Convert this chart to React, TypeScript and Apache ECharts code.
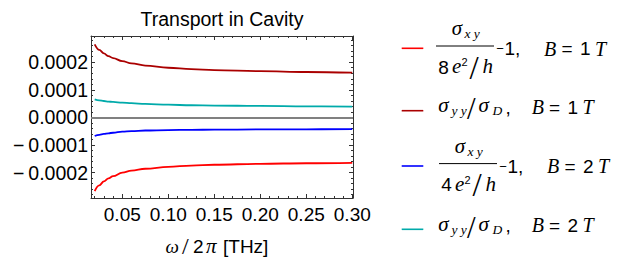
import React, { useEffect, useRef } from 'react';
import * as echarts from 'echarts';

// ---- data ----
const freqTHz = [0.02, 0.025, 0.03, 0.035, 0.04, 0.05, 0.06, 0.075, 0.10, 0.125, 0.15, 0.20, 0.25, 0.30];
// sigma_xy/(8e^2/h) - 1, B = 1T
const sxy1T = [-2.67e-4, -2.46e-4, -2.32e-4, -2.21e-4, -2.13e-4, -2.0e-4, -1.93e-4, -1.86e-4, -1.79e-4, -1.745e-4, -1.715e-4, -1.68e-4, -1.66e-4, -1.645e-4];
// sigma_yy/sigma_D, B = 1T
const syy1T = [2.65e-4, 2.45e-4, 2.32e-4, 2.22e-4, 2.15e-4, 2.04e-4, 1.96e-4, 1.88e-4, 1.80e-4, 1.75e-4, 1.715e-4, 1.675e-4, 1.645e-4, 1.62e-4];
// sigma_xy/(4e^2/h) - 1, B = 2T
const sxy2T = [-0.675e-4, -0.63e-4, -0.60e-4, -0.575e-4, -0.555e-4, -0.515e-4, -0.495e-4, -0.475e-4, -0.46e-4, -0.45e-4, -0.445e-4, -0.435e-4, -0.43e-4, -0.425e-4];
// sigma_yy/sigma_D, B = 2T
const syy2T = [0.655e-4, 0.62e-4, 0.595e-4, 0.575e-4, 0.56e-4, 0.535e-4, 0.515e-4, 0.49e-4, 0.46e-4, 0.44e-4, 0.43e-4, 0.415e-4, 0.40e-4, 0.39e-4];

const xMajorTicks = [0.05, 0.10, 0.15, 0.20, 0.25, 0.30];
const xMinorTicks = [0.02, 0.03, 0.04, 0.06, 0.07, 0.08, 0.09, 0.11, 0.12, 0.13, 0.14, 0.16, 0.17, 0.18, 0.19, 0.21, 0.22, 0.23, 0.24, 0.26, 0.27, 0.28, 0.29];
const yMajorTicks = [-0.0002, -0.0001, 0, 0.0001, 0.0002];
const yMinorTicks = [-0.00028, -0.00026, -0.00024, -0.00022, -0.00018, -0.00016, -0.00014, -0.00012, -0.00008, -0.00006, -0.00004, -0.00002,
  0.00002, 0.00004, 0.00006, 0.00008, 0.00012, 0.00014, 0.00016, 0.00018, 0.00022, 0.00024, 0.00026, 0.00028];

const X_MIN = 0.016;
const X_MAX = 0.3008;
const Y_MIN = -2.92e-4;
const Y_MAX = 2.95e-4;

const RED = '#ff0000';
const DARKRED = '#aa0000';
const BLUE = '#0000ff';
const TEAL = '#00aaaa';
const FRAME = '#333333';

const SANS = '"Liberation Sans", Arial, sans-serif';
const SERIF = '"Liberation Serif", "Times New Roman", serif';

type Kind = 'si' | 'r' | 's';
type Piece = [string, number, number, Kind, number];

function piece([text, x, base, kind, size]: Piece): any {
  const family = kind === 's' ? SANS : SERIF;
  const italic = kind === 'si' ? 'italic' : 'normal';
  return {
    type: 'text',
    x,
    y: base - 0.34 * size,
    silent: true,
    style: {
      text,
      fill: '#000',
      fontFamily: family,
      fontStyle: italic,
      fontSize: size,
      align: 'left',
      verticalAlign: 'middle',
    },
  };
}

function fracEntry(dx: number, dy: number, k: string, b: string): any[] {
  const items: Piece[] = [
    ['σ', 451.7 + dx, 35.5 + dy, 'si', 21],
    ['x y', 464.5 + dx, 38.5 + dy, 'si', 13.5],
    [k, 438.3 + dx, 73.5 + dy, 's', 19],
    ['e', 452 + dx, 73.5 + dy, 'si', 21],
    ['2', 461.5 + dx, 66 + dy, 's', 11],
    ['/', 469.5 + dx, 79 + dy, 'r', 33],
    ['h', 482.5 + dx, 73.5 + dy, 'si', 21],
    ['−', 496.3 + dx, 53 + dy, 's', 13],
    ['1', 504.5 + dx, 55.3 + dy, 's', 19],
    [',', 515 + dx, 55.3 + dy, 's', 19],
    ['B', 544 + dx, 55.3 + dy, 'si', 20],
    ['=', 561.5 + dx, 55.3 + dy, 's', 19],
    [b, 580 + dx, 55.3 + dy, 's', 19],
    ['T', 595 + dx, 55.3 + dy, 'si', 20],
  ];
  const out = items.map(piece);
  out.push({
    type: 'line',
    silent: true,
    shape: { x1: 436 + dx, y1: 46 + dy, x2: 494 + dx, y2: 46 + dy },
    style: { stroke: '#000', lineWidth: 1 },
  });
  return out;
}

function ratioEntry(dy: number, b: string): any[] {
  const items: Piece[] = [
    ['σ', 438.3, 112.5 + dy, 'si', 21],
    ['y y', 451.5, 115.5 + dy, 'si', 13.5],
    ['/', 467, 119.5 + dy, 'r', 31],
    ['σ', 478.5, 112.5 + dy, 'si', 21],
    ['D', 492.5, 115.5 + dy, 'si', 13.5],
    [',', 505.5, 113.7 + dy, 's', 19],
    ['B', 531.7, 113.7 + dy, 'si', 20],
    ['=', 549, 113.7 + dy, 's', 19],
    [b, 567.5, 113.7 + dy, 's', 19],
    ['T', 582.5, 113.7 + dy, 'si', 20],
  ];
  return items.map(piece);
}

function swatch(y: number, color: string): any {
  return {
    type: 'line',
    silent: true,
    shape: { x1: 401.7, y1: y, x2: 423.3, y2: y },
    style: { stroke: color, lineWidth: 1.6 },
  };
}

function mkX(position: string, ticks: number[], len: number, labels: boolean, line: boolean): any {
  return {
    type: 'value',
    position,
    min: X_MIN,
    max: X_MAX,
    axisLine: { show: line, onZero: false, lineStyle: { color: FRAME, width: 1 } },
    axisTick: { show: true, inside: true, length: len, customValues: ticks, lineStyle: { color: FRAME, width: 1 } },
    axisLabel: labels
      ? {
          show: true,
          customValues: ticks,
          margin: 7,
          color: '#000',
          fontSize: 19,
          fontFamily: SANS,
          formatter: (v: number) => v.toFixed(2),
        }
      : { show: false },
    splitLine: { show: false },
    minorTick: { show: false },
  };
}

function mkY(position: string, ticks: number[], len: number, labels: boolean, line: boolean): any {
  return {
    type: 'value',
    position,
    min: Y_MIN,
    max: Y_MAX,
    axisLine: { show: line, onZero: false, lineStyle: { color: FRAME, width: 1 } },
    axisTick: { show: true, inside: true, length: len, customValues: ticks, lineStyle: { color: FRAME, width: 1 } },
    axisLabel: labels
      ? {
          show: true,
          customValues: ticks,
          margin: 3,
          color: '#000',
          fontSize: 19.5,
          fontFamily: SANS,
          formatter: (v: number) => {
            const s = Math.abs(v).toFixed(4);
            return v < -1e-12 ? '−\u2009' + s : s;
          },
        }
      : { show: false },
    splitLine: { show: false },
    minorTick: { show: false },
  };
}

function pairs(ys: number[]): number[][] {
  return freqTHz.map((x, i) => [x, ys[i]]);
}

function lineSeries(name: string, ys: number[], color: string, withZero = false): any {
  const s: any = {
    type: 'line',
    name,
    xAxisIndex: 0,
    yAxisIndex: 0,
    data: pairs(ys),
    showSymbol: false,
    symbol: 'none',
    smooth: 0.4,
    smoothMonotone: 'x',
    lineStyle: { color, width: 1.8 },
    itemStyle: { color },
    z: 3,
  };
  if (withZero) {
    s.markLine = {
      silent: true,
      symbol: 'none',
      label: { show: false },
      lineStyle: { color: '#808080', width: 2, type: 'solid' },
      data: [{ yAxis: 0 }],
      z: 2,
    };
  }
  return s;
}

export default function App() {
  const ref = useRef<HTMLDivElement>(null);
  useEffect(() => {
    if (!ref.current) return;
    const chart = echarts.init(ref.current, undefined, { renderer: 'svg' });
    const xName: Piece[] = [
      ['ω', 165.5, 253.3, 'si', 19],
      ['/', 182, 254.5, 'r', 24],
      ['2', 193, 253.3, 's', 19],
      ['π', 206, 253.3, 'si', 21],
      ['[THz]', 223, 253.3, 's', 19],
    ];
    chart.setOption({
      animation: false,
      backgroundColor: '#ffffff',
      title: {
        text: 'Transport in Cavity',
        left: 222,
        top: 9,
        padding: 0,
        textAlign: 'center',
        textStyle: { color: '#000', fontWeight: 'normal', fontSize: 19.5, fontFamily: SANS },
      },
      grid: { left: 91, top: 36, width: 262, height: 162, containLabel: false, outerBoundsMode: 'none' },
      xAxis: [
        mkX('bottom', xMajorTicks, 4, true, true),
        mkX('bottom', xMinorTicks, 2, false, false),
        mkX('top', xMajorTicks, 4, false, true),
        mkX('top', xMinorTicks, 2, false, false),
      ],
      yAxis: [
        mkY('left', yMajorTicks, 4, true, true),
        mkY('left', yMinorTicks, 2, false, false),
        mkY('right', yMajorTicks, 4, false, true),
        mkY('right', yMinorTicks, 2, false, false),
      ],
      series: [
        lineSeries('σxy/(8e²/h) − 1, B = 1 T', sxy1T, RED, true),
        lineSeries('σyy/σD, B = 1 T', syy1T, DARKRED),
        lineSeries('σxy/(4e²/h) − 1, B = 2 T', sxy2T, BLUE),
        lineSeries('σyy/σD, B = 2 T', syy2T, TEAL),
      ],
      graphic: [
        ...xName.map(piece),
        swatch(48.3, RED),
        ...fracEntry(0, 0, '8', '1'),
        swatch(110.7, DARKRED),
        ...ratioEntry(0, '1'),
        swatch(166, BLUE),
        ...fracEntry(3, 117.6, '4', '2'),
        swatch(229.3, TEAL),
        ...ratioEntry(118.5, '2'),
      ],
    });
    return () => chart.dispose();
  }, []);
  return (
    <div
      ref={ref}
      style={{ position: 'absolute', left: 0, top: 0, width: 632, height: 259, background: '#fff' }}
    />
  );
}
